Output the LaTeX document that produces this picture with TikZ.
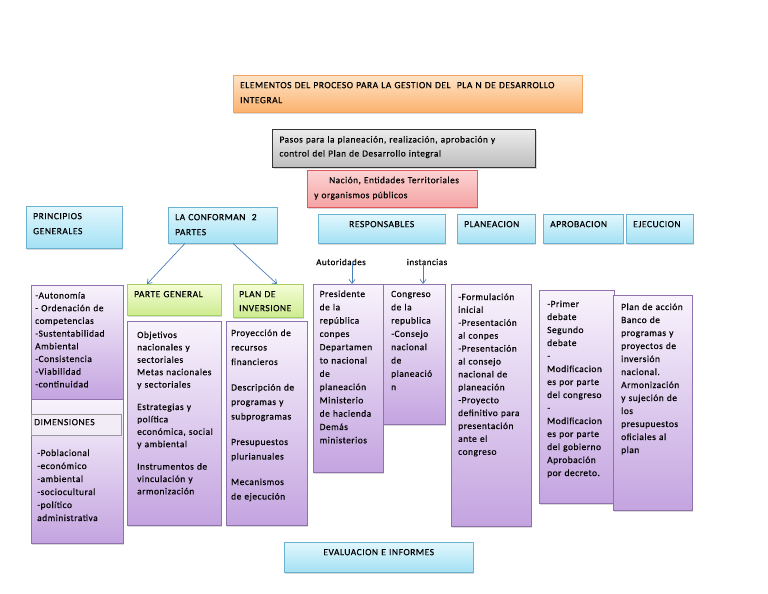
\documentclass[tikz,border=0pt]{standalone}
\usepackage{fontspec}
\setmainfont{Carlito}[LetterSpace=5.5, FakeBold=0.35]
\usetikzlibrary{arrows.meta,shadows}

\definecolor{blueT}{HTML}{E2F7FD}
\definecolor{blueB}{HTML}{A4E1F4}
\definecolor{blueL}{HTML}{6AB2CF}
\definecolor{greenT}{HTML}{F5FDD6}
\definecolor{greenB}{HTML}{CDEC90}
\definecolor{greenL}{HTML}{A6CF62}
\definecolor{purpT}{HTML}{F8F3FC}
\definecolor{purpB}{HTML}{C4A4E0}
\definecolor{purpL}{HTML}{8E72AE}
\definecolor{oranT}{HTML}{FEE4C8}
\definecolor{oranB}{HTML}{FBB26E}
\definecolor{oranL}{HTML}{F2A35E}
\definecolor{greyT}{HTML}{ECECEC}
\definecolor{greyB}{HTML}{BDBDBD}
\definecolor{pinkT}{HTML}{FCD3D3}
\definecolor{pinkB}{HTML}{F5A3A3}
\definecolor{pinkL}{HTML}{DE5A5A}
\definecolor{dimF}{HTML}{F1ECF5}
\definecolor{arrowC}{HTML}{4A7EBB}

\tikzset{
  box/.style={anchor=north west, align=left, inner xsep=7pt, inner ysep=6pt, text height=7pt,
    drop shadow={shadow xshift=1.2pt, shadow yshift=-1.5pt, opacity=0.3},
    font=\fontsize{9.5}{15}\selectfont},
  head/.style={box, draw=blueL, top color=blueT, bottom color=blueB},
  part/.style={box, draw=greenL, top color=greenT, bottom color=greenB},
  list/.style={draw=purpL, top color=purpT, bottom color=purpB, anchor=north west, inner sep=0pt,
    drop shadow={shadow xshift=1.2pt, shadow yshift=-1.5pt, opacity=0.3}},
  dimlab/.style={anchor=north west, align=left, draw=black!40, fill=dimF, inner xsep=3pt,
    inner ysep=4pt, text height=7pt, font=\fontsize{9.5}{15}\selectfont},
  txt/.style={anchor=base west, align=left, text width=100pt, inner sep=0pt,
    font=\fontsize{9.4}{13}\selectfont},
  arr/.style={draw=arrowC, line width=0.7pt, -{Straight Barb[length=4pt,width=6pt]}},
}

\begin{document}
\begin{tikzpicture}[x=1pt, y=-1pt]
  \useasboundingbox (0,0) rectangle (768,594);

  % upper boxes
  \node[box, draw=oranL, top color=oranT, bottom color=oranB, text width=335pt, text depth=18pt]
    (title) at (233,75) {ELEMENTOS DEL PROCESO PARA LA GESTION DEL\ \ PLA N DE DESARROLLO\\INTEGRAL};
  \node[box, draw=black!80, line width=1pt, top color=greyT, bottom color=greyB, text width=249pt,
    text depth=19pt, font=\fontsize{9.3}{14}\selectfont]
    (pasos) at (272,129) {Pasos para la planeación, realización, aprobación y\\control del Plan de Desarrollo integral};
  \node[box, draw=pinkL, top color=pinkT, bottom color=pinkB, text width=156pt, text depth=18pt,
    font=\fontsize{9.3}{15}\selectfont]
    (nacion) at (307,170) {\hspace*{15pt}Nación, Entidades Territoriales\\y organismos públicos};

  % headers
  \node[head, text width=82pt, text depth=23pt] (prinhead) at (26,206) {PRINCIPIOS\\GENERALES};
  \node[head, text width=95pt, text depth=17pt] (conf) at (168,207) {LA CONFORMAN\ \ 2\\PARTES};
  \node[head, text width=113pt, text depth=10pt, align=center] (resp) at (318,214) {RESPONSABLES};
  \node[head, text width=64pt, text depth=10pt] (planhead) at (457,214) {PLANEACION};
  \node[head, text width=66pt, text depth=10pt] (aprobhead) at (543,214) {APROBACION};
  \node[head, text width=53pt, text depth=10pt] (ejechead) at (626,214) {EJECUCION};
  \node[head, text width=175pt, text depth=11pt, align=center] (eval) at (284,542) {EVALUACION E INFORMES};

  \node[part, text width=80pt, text depth=12pt] (pghead) at (127,284) {PARTE GENERAL};
  \node[part, inner xsep=6pt, text width=58pt, text depth=14pt, font=\fontsize{9.5}{14}\selectfont]
    (pihead) at (233,284) {PLAN DE\\INVERSIONE};

  \draw[arr] ([xshift=17pt]conf.south west) -- ([xshift=20pt]pghead.north west);
  \draw[arr] ([xshift=65pt]conf.south west) -- ([xshift=44pt]pihead.north west);

  \node[font=\fontsize{9}{11}\selectfont] (aut) at (341,262) {Autoridades};
  \node[font=\fontsize{9}{11}\selectfont] (inst) at (427,262) {instancias};

  % principios y dimensiones
  \node[list, minimum width=92pt, minimum height=114pt] (prin) at (31,285) {};
  \node[txt, font=\fontsize{9.4}{12.7}\selectfont] (printxt) at ([shift={(4,13.5)}]prin.north west)
    {-Autonomía\\- Ordenación de\\competencias\\-Sustentabilidad\\Ambiental\\-Consistencia\\-Viabilidad\\-continuidad};
  \node[list, minimum width=92pt, minimum height=144pt] (dim) at (31,399) {};
  \node[dimlab, text width=84pt, text depth=6pt] (dimlbl) at (31,414) {DIMENSIONES};
  \node[txt] (dimtxt) at ([shift={(6,57)}]dim.north west)
    {-Poblacional\\-económico\\-ambiental\\-sociocultural\\-político\\administrativa};

  % las dos partes
  \node[list, minimum width=94pt, minimum height=204pt] (pg) at (127,321) {};
  \node[txt, font=\fontsize{9.4}{12.4}\selectfont] (pgtxt) at ([shift={(10,17)}]pg.north west)
    {Objetivos\\nacionales y\\sectoriales\\Metas nacionales\\y sectoriales\\[10pt]
     Estrategias y\\política\\económica, social\\y ambiental\\[10pt]
     Instrumentos de\\vinculación y\\armonización};
  \node[list, minimum width=81pt, minimum height=204pt] (pi) at (226,321) {};
  \node[txt, font=\fontsize{9.4}{14.5}\selectfont] (pitxt) at ([shift={(5,15)}]pi.north west)
    {Proyección de\\recursos\\financieros\\[11pt]
     Descripción de\\programas y\\subprogramas\\[11pt]
     Presupuestos\\plurianuales\\[11pt]
     Mecanismos\\de ejecución};

  % responsables
  \node[list, minimum width=70pt, minimum height=188pt] (pres) at (313,284) {};
  \node[txt, font=\fontsize{9.4}{13.3}\selectfont] (prestxt) at ([shift={(6.5,13)}]pres.north west)
    {Presidente\\de la\\república\\conpes\\Departamen\\to nacional\\de\\planeación\\Ministerio\\de hacienda\\Demás\\ministerios};
  \node[list, minimum width=62pt, minimum height=140pt] (cong) at (383,284) {};
  \node[txt, font=\fontsize{9.4}{13.3}\selectfont] (congtxt) at ([shift={(8,13)}]cong.north west)
    {Congreso\\de la\\republica\\-Consejo\\nacional\\de\\planeació\\n};
  \draw[arr] ([xshift=11pt]aut.center) -- ([xshift=11pt]aut.center |- pres.north);
  \draw[arr] ([xshift=-4pt]inst.center) -- ([xshift=-4pt]inst.center |- cong.north);

  % pasos del plan
  \node[list, minimum width=80pt, minimum height=242pt] (plan) at (451,284) {};
  \node[txt, font=\fontsize{9.4}{12.9}\selectfont] (plantxt) at ([shift={(7,16)}]plan.north west)
    {-Formulación\\inicial\\-Presentación\\al conpes\\-Presentación\\al consejo\\nacional de\\planeación\\-Proyecto\\definitivo para\\presentación\\ante el\\congreso};
  \node[list, minimum width=75pt, minimum height=213pt] (aprob) at (539,290) {};
  \node[txt] (aprobtxt) at ([shift={(8,17)}]aprob.north west)
    {-Primer\\debate\\Segundo\\debate\\-\\Modificacion\\es por parte\\del congreso\\-\\Modificacion\\es por parte\\del gobierno\\Aprobación\\por decreto.};
  \node[list, minimum width=79pt, minimum height=215pt] (ejec) at (613,295) {};
  \node[txt] (ejectxt) at ([shift={(8,15)}]ejec.north west)
    {Plan de acción\\Banco de\\programas y\\proyectos de\\inversión\\nacional.\\Armonización\\y sujeción de\\los\\presupuestos\\oficiales al\\plan};
\end{tikzpicture}
\end{document}
